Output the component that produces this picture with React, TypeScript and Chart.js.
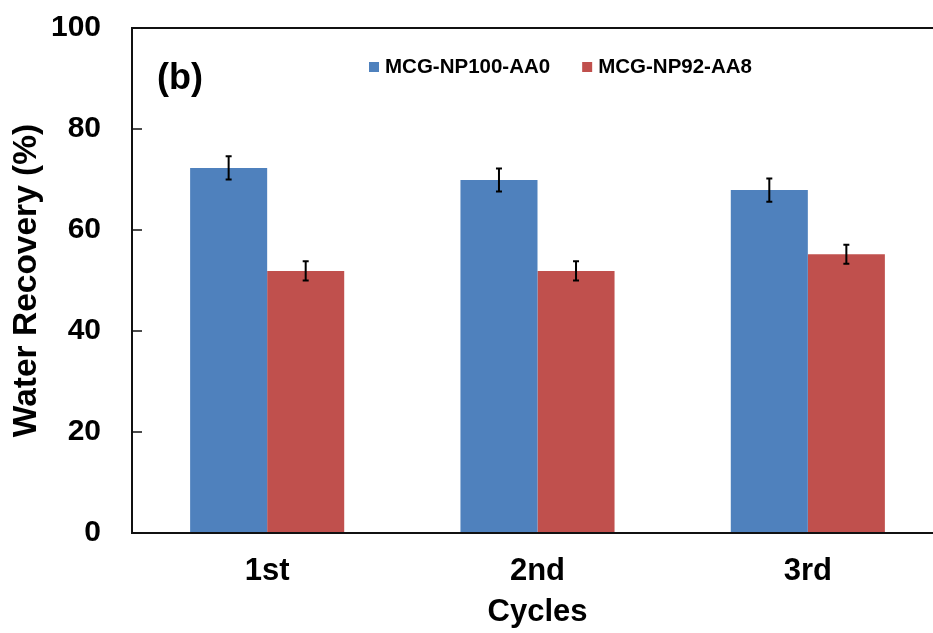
import React, { useEffect, useRef } from "react";
import { Chart, registerables } from "chart.js";

Chart.register(...registerables);

const categories = ["1st", "2nd", "3rd"];
const seriesNames = ["MCG-NP100-AA0", "MCG-NP92-AA8"];
const np100Values = [72.3, 69.9, 67.9];
const np92Values = [51.9, 51.9, 55.2];
const np100Errors = [2.3, 2.3, 2.3];
const np92Errors = [1.9, 1.9, 1.9];
const yTicks = [0, 20, 40, 60, 80, 100];
const panelLabel = "(b)";
const xTitle = "Cycles";
const yTitle = "Water Recovery (%)";

const FONT = '"Liberation Sans", Arial, Helvetica, sans-serif';
const BLUE = "#4F81BD";
const RED = "#C0504D";

const errorBarPlugin = {
  id: "errorBars",
  afterDatasetsDraw(chart: any) {
    const ctx = chart.ctx;
    const yScale = chart.scales.y;
    chart.data.datasets.forEach((ds: any, di: number) => {
      const meta = chart.getDatasetMeta(di);
      meta.data.forEach((bar: any, i: number) => {
        const v = ds.data[i];
        const e = ds.errors[i];
        const x = bar.x;
        const yTop = yScale.getPixelForValue(v + e);
        const yBot = yScale.getPixelForValue(v - e);
        ctx.save();
        ctx.strokeStyle = "#000";
        ctx.lineWidth = 2;
        ctx.beginPath();
        ctx.moveTo(x, yTop);
        ctx.lineTo(x, yBot);
        ctx.moveTo(x - 3, yTop);
        ctx.lineTo(x + 3, yTop);
        ctx.moveTo(x - 3, yBot);
        ctx.lineTo(x + 3, yBot);
        ctx.stroke();
        ctx.restore();
      });
    });
  },
};

const framePlugin = {
  id: "frameAndExtras",
  afterDraw(chart: any) {
    const ctx = chart.ctx;
    const { left, top, right, bottom } = chart.chartArea;
    const yScale = chart.scales.y;
    ctx.save();
    ctx.strokeStyle = "#111";
    ctx.lineWidth = 2;
    ctx.strokeRect(left, top, right - left, bottom - top);
    // inward tick marks
    ctx.beginPath();
    yTicks.forEach((v) => {
      const y = yScale.getPixelForValue(v);
      ctx.moveTo(left, y);
      ctx.lineTo(left + 10, y);
    });
    ctx.lineWidth = 1.5;
    ctx.stroke();

    // panel label
    ctx.fillStyle = "#000";
    ctx.font = `bold 36px ${FONT}`;
    ctx.textAlign = "left";
    ctx.textBaseline = "alphabetic";
    ctx.fillText(panelLabel, left + 25, top + 61);

    // legend
    ctx.font = `bold 20.5px ${FONT}`;
    ctx.textBaseline = "middle";
    const colors = [BLUE, RED];
    let x = left + 237;
    const sqTop = top + 34;
    seriesNames.forEach((name, i) => {
      ctx.fillStyle = colors[i];
      ctx.fillRect(x, sqTop, 10, 10);
      ctx.fillStyle = "#000";
      ctx.fillText(name, x + 16, sqTop + 5);
      const w = ctx.measureText(name).width;
      x = x + 16 + w + 32;
    });
    ctx.restore();
  },
};

export default function App() {
  const ref = useRef<HTMLCanvasElement | null>(null);

  useEffect(() => {
    if (!ref.current) return;
    const chart = new Chart(ref.current, {
      type: "bar",
      data: {
        labels: categories,
        datasets: [
          {
            label: seriesNames[0],
            data: np100Values,
            errors: np100Errors,
            backgroundColor: BLUE,
            borderWidth: 0,
            categoryPercentage: 0.57,
            barPercentage: 1.0,
          } as any,
          {
            label: seriesNames[1],
            data: np92Values,
            errors: np92Errors,
            backgroundColor: RED,
            borderWidth: 0,
            categoryPercentage: 0.57,
            barPercentage: 1.0,
          } as any,
        ],
      },
      options: {
        responsive: false,
        animation: false,
        layout: { padding: { top: 28, left: 0, right: 7, bottom: 0 } },
        plugins: {
          legend: { display: false },
          tooltip: { enabled: false },
        },
        scales: {
          x: {
            grid: { display: false, drawTicks: false },
            border: { display: false },
            ticks: {
              color: "#000",
              padding: 20,
              font: { family: FONT, size: 31, weight: "bold" },
            },
            title: {
              display: true,
              text: xTitle,
              color: "#000",
              padding: { top: 0, bottom: 2 },
              font: { family: FONT, size: 31, weight: "bold" },
            },
            afterFit: (s: any) => {
              s.height = 100;
              s.paddingLeft = 0;
              s.paddingRight = 0;
            },
          },
          y: {
            min: 0,
            max: 100,
            afterBuildTicks: (s: any) => {
              s.ticks = yTicks.map((v) => ({ value: v }));
            },
            grid: { display: false, drawTicks: false },
            border: { display: false },
            ticks: {
              color: "#000",
              padding: 31,
              font: { family: FONT, size: 30, weight: "bold" },
            },
            title: {
              display: true,
              text: yTitle,
              color: "#000",
              padding: { top: 7, bottom: 0 },
              font: { family: FONT, size: 33.5, weight: "bold" },
            },
            afterFit: (s: any) => {
              s.width = 132;
              s.paddingTop = 0;
              s.paddingBottom = 0;
            },
          },
        },
      } as any,
      plugins: [errorBarPlugin, framePlugin],
    });
    return () => chart.destroy();
  }, []);

  return (
    <div
      style={{
        position: "absolute",
        left: 0,
        top: 0,
        width: 933,
        height: 633,
        overflow: "hidden",
        background: "#fff",
      }}
    >
      <canvas ref={ref} width={950} height={633} style={{ display: "block" }} />
    </div>
  );
}
